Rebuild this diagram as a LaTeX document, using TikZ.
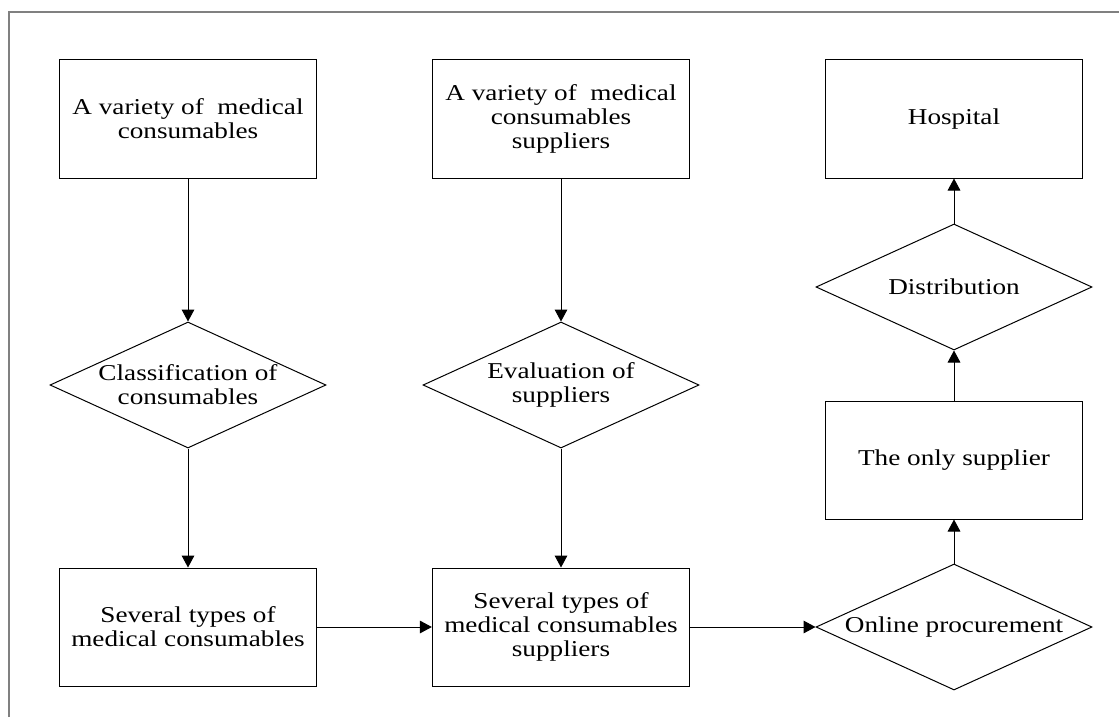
\documentclass[tikz,border=0pt]{standalone}
\usepackage{fontspec}
\setmainfont{Liberation Serif}[FakeStretch=1.2]
\usepackage{tikz}
\usetikzlibrary{shapes.geometric,arrows.meta}

\begin{document}
\begin{tikzpicture}
  [x=0.75pt,y=-0.75pt,line width=0.75pt,
   every node/.style={draw,align=center,font=\fontsize{17}{18}\selectfont},
   box/.style={rectangle,minimum width=193pt,minimum height=88.5pt,inner sep=0pt},
   choice/.style={diamond,minimum width=207pt,minimum height=94.5pt,inner xsep=-80pt,inner ysep=-30pt}]
  \useasboundingbox (0,0) rectangle (1119,717);
  \draw[gray,line width=1pt] (9,717) -- (9,12) -- (1119,12);

  \node[box] (1) at (188,119) {A variety of\ \ medical\\consumables};
  \node[box] (2) at (561,119) {A variety of\ \ medical\\consumables\\suppliers};
  \node[box] (3) at (954,119) {Hospital};
  \node[choice] (4) at (188,385) {Classification of\\consumables};
  \node[choice] (5) at (561,385) {Evaluation of\\suppliers};
  \node[choice] (6) at (954,287) {Distribution};
  \node[box] (7) at (954,460) {The only supplier};
  \node[box] (8) at (188,627) {Several types of\\medical consumables};
  \node[box] (9) at (561,627) {Several types of\\medical consumables\\suppliers};
  \node[choice] (10) at (954,627) {Online procurement};

  \foreach \from/\to in {1/4,4/8,8/9,2/5,5/9,9/10,10/7,7/6,6/3}
    \draw[-{Triangle[length=9pt,width=9.5pt]}] (\from) -- (\to);

\end{tikzpicture}
\end{document}
